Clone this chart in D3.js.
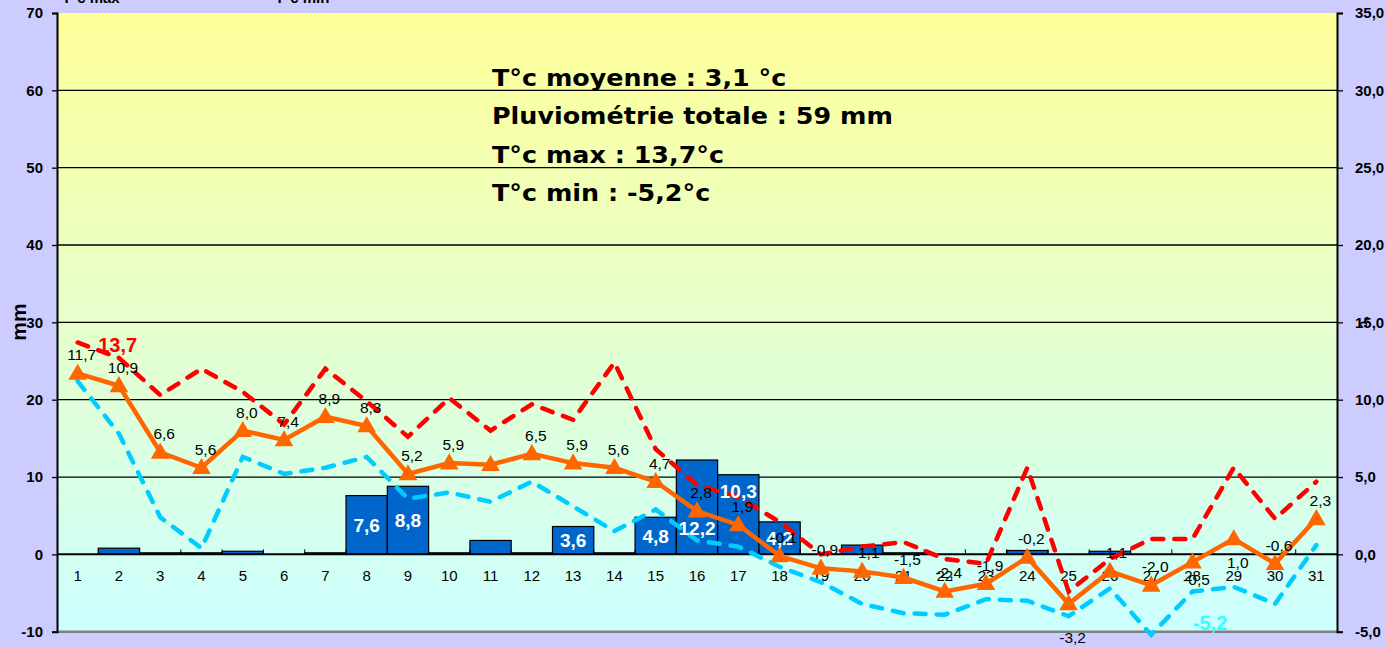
<!DOCTYPE html>
<html><head><meta charset="utf-8">
<script src="https://cdn.jsdelivr.net/npm/d3@7"></script>
<style>html,body{margin:0;padding:0;background:#CCCCFF;overflow:hidden}text{font-family:"Liberation Sans",Arial,sans-serif}</style>
</head><body><svg id="c" width="1386" height="647"></svg>
<script>
const days = d3.range(1, 32);
const rain = [0,0.8,0.2,0.2,0.4,0,0.2,7.6,8.8,0.2,1.8,0.2,3.6,0.2,4.8,12.2,10.3,4.2,0,1.2,0.2,0,0,0.5,0,0.4,0,0,0,0,0];
const tMean = [11.7,10.9,6.6,5.6,8.0,7.4,8.9,8.3,5.2,5.9,5.8,6.5,5.9,5.6,4.7,2.8,1.9,-0.1,-0.9,-1.1,-1.5,-2.4,-1.9,-0.2,-3.2,-1.1,-2.0,-0.5,1.0,-0.6,2.3];
const tMax = [13.7,12.7,10.3,12.0,10.5,8.4,12.0,9.9,7.6,10.1,8.0,9.7,8.7,12.4,6.8,4.5,3.7,2.1,0.0,0.5,0.8,-0.3,-0.6,5.6,-2.4,-0.3,1.0,1.0,5.6,2.3,4.7];
const tMin = [11.2,7.8,2.4,0.4,6.3,5.2,5.6,6.3,3.6,4.0,3.4,4.7,3.1,1.5,2.9,0.9,0.5,-0.8,-1.8,-3.2,-3.8,-3.9,-2.9,-3.0,-4.0,-2.2,-5.2,-2.4,-2.1,-3.2,0.6];
const mmTicks = [-10,0,10,20,30,40,50,60,70];
const tempTicks = [-5,0,5,10,15,20,25,30,35];
const infoLines = ["T°c moyenne : 3,1 °c","Pluviométrie totale : 59 mm","T°c max : 13,7°c","T°c min :  -5,2°c"];
const legendItems = ["T°c max","T°c min"];

// layout config
const L = 57, R = 1337, T = 13, B = 631.7;
const hideMeanLabel = [11];
const meanLabelBelow = {25: 34, 28: 18, 29: 24};
const barLabelNudge = {16: 21, 17: -24};
const infoWidestLine = 401;

const fmt1 = v => (Math.abs(v) < 0.05 ? 0 : v).toFixed(1).replace(".", ",");

const svg = d3.select("#c");
const defs = svg.append("defs");
const grad = defs.append("linearGradient").attr("id","bg").attr("x1",0).attr("y1",0).attr("x2",0).attr("y2",1);
grad.append("stop").attr("offset","0%").attr("stop-color","#FFFF99");
grad.append("stop").attr("offset","100%").attr("stop-color","#CCFFFF");

svg.append("rect").attr("width",1386).attr("height",647).attr("fill","#CCCCFF");
svg.append("rect").attr("x",L).attr("y",T).attr("width",R-L).attr("height",B-T).attr("fill","url(#bg)");

const x = d3.scaleBand().domain(days).range([L,R]).padding(0);
const yL = d3.scaleLinear().domain([-10,70]).range([B,T]);
const yR = d3.scaleLinear().domain([-5,35]).range([B,T]);
const cx = d => x(d) + x.bandwidth()/2;

// gridlines
svg.append("g").selectAll("line").data(mmTicks.filter(v=>v>-10 && v!==0 && v<70)).join("line")
  .attr("x1",L).attr("x2",R).attr("y1",d=>yL(d)).attr("y2",d=>yL(d))
  .attr("stroke","#000").attr("stroke-width",1.3);

// info text (horizontally stretched heavy font)
const info = svg.append("g");
const infoT = info.selectAll("text").data(infoLines).join("text")
  .attr("x",0).attr("y",(d,i)=>86+i*38.5)
  .attr("font-size",23).attr("font-weight","bold").attr("fill","#000")
  .style("font-family","'DejaVu Sans', sans-serif").text(d=>d);
const wMax = d3.max(infoT.nodes(), n => n.getComputedTextLength());
info.attr("transform",`translate(492,0) scale(${infoWidestLine/wMax},1)`);

// bars
svg.append("g").selectAll("rect").data(days.filter((d,i)=>rain[i]>0)).join("rect")
  .attr("x",d=>x(d)).attr("width",x.bandwidth())
  .attr("y",d=>yL(rain[d-1])).attr("height",d=>yL(0)-yL(rain[d-1]))
  .attr("fill","#0066CC").attr("stroke","#000").attr("stroke-width",1.2);

// bottom border & zero line
svg.append("line").attr("x1",L).attr("x2",R).attr("y1",B).attr("y2",B).attr("stroke","#808080").attr("stroke-width",2.5);
svg.append("line").attr("x1",L).attr("x2",R).attr("y1",yL(0)).attr("y2",yL(0)).attr("stroke","#000").attr("stroke-width",2);
svg.append("g").selectAll("line").data(days.slice(1)).join("line")
  .attr("x1",d=>x(d)).attr("x2",d=>x(d)).attr("y1",yL(0)).attr("y2",yL(0)-5)
  .attr("stroke","#000").attr("stroke-width",1);

// axes
const axL = svg.append("g").attr("transform",`translate(${L},0)`)
  .call(d3.axisLeft(yL).tickValues(mmTicks).tickSize(5).tickPadding(9).tickFormat(d=>String(d).replace("−","-")));
axL.select(".domain").attr("stroke","#000").attr("stroke-width",2);
axL.selectAll("text").attr("font-size",15).attr("font-weight","bold").attr("fill","#000").attr("font-family","Liberation Sans, Arial, sans-serif");
axL.selectAll(".tick line").attr("stroke","#000").attr("stroke-width",1.3);

const axR = svg.append("g").attr("transform",`translate(${R},0)`)
  .call(d3.axisRight(yR).tickValues(tempTicks).tickSize(6).tickPadding(12).tickFormat(fmt1));
axR.select(".domain").attr("stroke","#000").attr("stroke-width",2);
axR.selectAll("text").attr("font-size",15).attr("font-weight","bold").attr("fill","#000").attr("font-family","Liberation Sans, Arial, sans-serif");
axR.selectAll(".tick line").attr("stroke","#000").attr("stroke-width",1.3);

// axis titles
svg.append("text").attr("transform","translate(26,322) rotate(-90)").attr("text-anchor","middle")
  .attr("font-size",21).attr("font-weight","bold").text("mm");
svg.append("text").attr("transform","translate(1360,322) rotate(90)").attr("text-anchor","middle")
  .attr("font-size",12).attr("font-weight","bold").text("°c");

// category labels
svg.append("g").selectAll("text").data(days).join("text")
  .attr("x",d=>cx(d)).attr("y",yL(-3.5)).attr("text-anchor","middle")
  .attr("font-size",15).attr("fill","#000").text(d=>d);

// lines
const lineT = arr => d3.line().x((d,i)=>cx(days[i])).y(d=>yR(d))(arr);
svg.append("path").attr("d",lineT(tMin)).attr("fill","none").attr("stroke","#00CCFF")
  .attr("stroke-width",4.5).attr("stroke-dasharray","11,11").attr("stroke-linecap","round");
svg.append("path").attr("d",lineT(tMax)).attr("fill","none").attr("stroke","#FF0000")
  .attr("stroke-width",4.5).attr("stroke-dasharray","11,11").attr("stroke-linecap","round");
svg.append("path").attr("d",lineT(tMean)).attr("fill","none").attr("stroke","#FF6600").attr("stroke-width",4.5);
svg.append("g").selectAll("path").data(tMean).join("path")
  .attr("d",d3.symbol().type(d3.symbolTriangle).size(150))
  .attr("transform",(d,i)=>`translate(${cx(days[i])},${yR(d)+1})`).attr("fill","#FF6600");

// bar labels
svg.append("g").selectAll("text").data(days.filter((d,i)=>rain[i]>=3)).join("text")
  .attr("x",d=>cx(d)).attr("y",d=>(yL(rain[d-1])+yL(0))/2 + 7 + (barLabelNudge[d]||0))
  .attr("text-anchor","middle").attr("font-size",19).attr("font-weight","bold").attr("fill","#fff")
  .text(d=>fmt1(rain[d-1]));

// mean labels
svg.append("g").selectAll("text").data(days.filter(d=>!hideMeanLabel.includes(d))).join("text")
  .attr("x",d=>cx(d)+4).attr("y",d=>yR(tMean[d-1]) + (meanLabelBelow[d] ? meanLabelBelow[d]+5 : -13))
  .attr("text-anchor","middle").attr("font-size",15.5).attr("fill","#000")
  .text(d=>fmt1(tMean[d-1]));

// extreme labels
const iMax = d3.maxIndex(tMax), iMin = d3.minIndex(tMin);
svg.append("text").attr("x",cx(days[iMax])+40).attr("y",yR(tMax[iMax])+10).attr("text-anchor","middle")
  .attr("font-size",20).attr("font-weight","bold").attr("fill","#FF0000")
  .text(fmt1(tMax[iMax]));
svg.append("text").attr("x",cx(days[iMin])+59).attr("y",yR(tMin[iMin])-5).attr("text-anchor","middle")
  .attr("font-size",20).attr("font-weight","bold").attr("fill","#33FFFF")
  .text(fmt1(tMin[iMin]));

// legend (cut at top)
svg.append("g").selectAll("text").data(legendItems).join("text")
  .attr("x",(d,i)=>62+i*213).attr("y",3).attr("font-size",15).attr("font-weight","bold").attr("fill","#000").text(d=>d);
</script></body></html>
